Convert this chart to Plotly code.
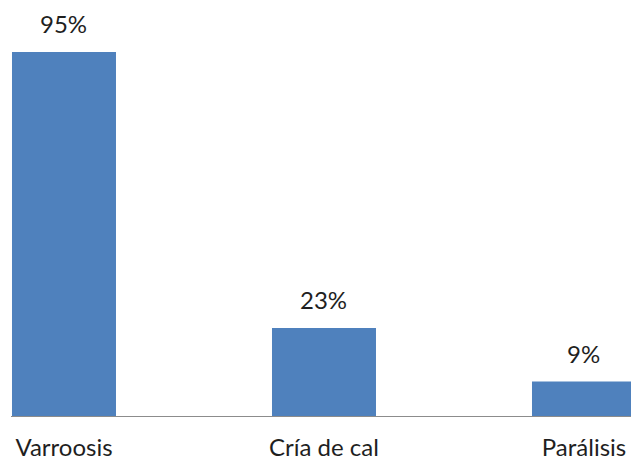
import plotly.graph_objects as go

# Porcentaje de colmenas afectadas por enfermedad
categorias = ["Varroosis", "Cría de cal", "Parálisis"]
porcentajes = [95, 23, 9]
etiquetas = ["95%", "23%", "9%"]

FONT = "Lato"
TEXT_COLOR = "#1f1f1f"
BAR_COLOR = "#4f81bd"

fig = go.Figure(
    go.Bar(
        x=list(range(len(categorias))),
        y=porcentajes,
        width=0.4,
        marker=dict(color=BAR_COLOR, line=dict(width=0)),
        hoverinfo="skip",
    )
)

for i, (v, t) in enumerate(zip(porcentajes, etiquetas)):
    fig.add_annotation(
        x=i, y=v, text=t, showarrow=False,
        xanchor="center", yanchor="bottom", yshift=12,
        font=dict(family=FONT, size=24, color=TEXT_COLOR),
    )

fig.update_layout(
    width=631, height=461,
    margin=dict(l=11, r=0, t=0, b=45, autoexpand=False),
    paper_bgcolor="white", plot_bgcolor="white",
    showlegend=False,
    xaxis=dict(
        range=[-0.2038, 2.1808],
        tickmode="array",
        tickvals=list(range(len(categorias))),
        ticktext=categorias,
        tickfont=dict(family=FONT, size=24, color=TEXT_COLOR),
        showline=True, linecolor="#8c8c8c", linewidth=1,
        showgrid=False, zeroline=False,
        ticks="outside", ticklen=10, tickcolor="rgba(0,0,0,0)",
        automargin=False,
        fixedrange=True,
    ),
    yaxis=dict(
        range=[0, 108.6],
        visible=False,
        showgrid=False, zeroline=False,
        automargin=False,
        fixedrange=True,
    ),
)

fig.write_html("out.html")
